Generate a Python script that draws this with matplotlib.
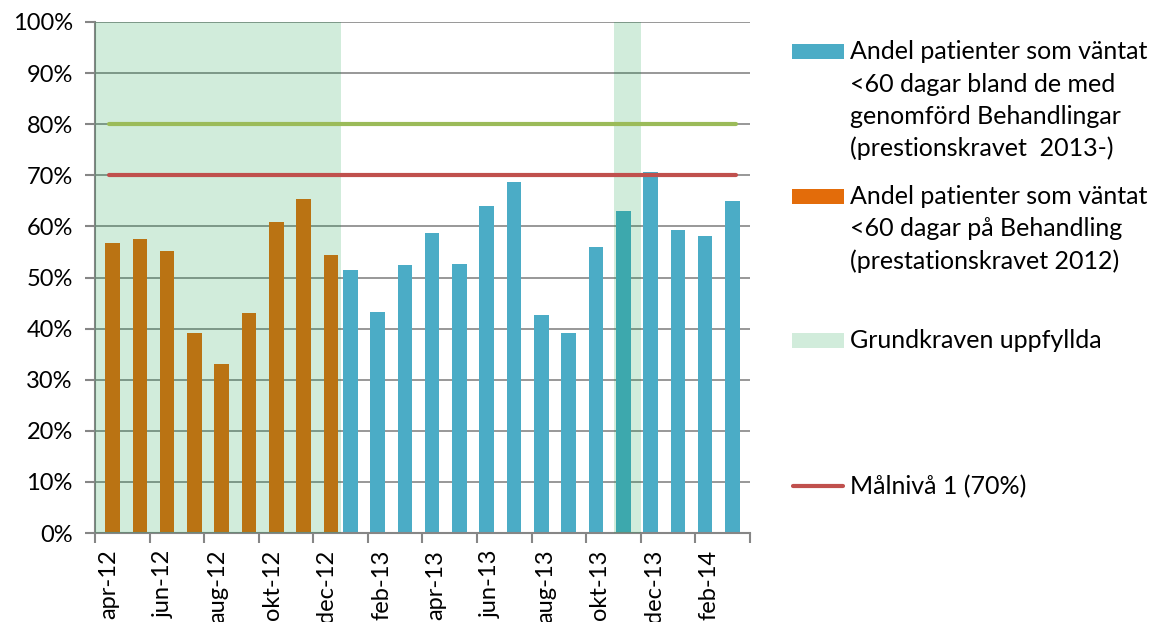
import numpy as np
from matplotlib import pyplot as plt
from matplotlib.patches import Rectangle
from matplotlib.lines import Line2D
from matplotlib.ticker import PercentFormatter, FixedLocator

plt.rcParams['font.family'] = ['Lato', 'DejaVu Sans']

months = ['apr-12', 'maj-12', 'jun-12', 'jul-12', 'aug-12', 'sep-12', 'okt-12', 'nov-12', 'dec-12',
          'jan-13', 'feb-13', 'mar-13', 'apr-13', 'maj-13', 'jun-13', 'jul-13', 'aug-13', 'sep-13',
          'okt-13', 'nov-13', 'dec-13', 'jan-14', 'feb-14', 'mar-14']
# prestationskravet 2012 (apr-12 .. dec-12)
krav2012 = [0.567, 0.575, 0.552, 0.391, 0.330, 0.431, 0.608, 0.654, 0.545]
# prestationskravet 2013- (jan-13 .. mar-14)
krav2013 = [0.515, 0.432, 0.525, 0.588, 0.527, 0.640, 0.687, 0.426, 0.392, 0.559,
            0.631, 0.707, 0.593, 0.582, 0.649]
# grundkraven uppfyllda per månad
grundkrav = [1, 1, 1, 1, 1, 1, 1, 1, 1, 0, 0, 0, 0, 0, 0, 0, 0, 0, 0, 1, 0, 0, 0, 0]
malniva1 = 0.70
malniva2 = 0.80

blue = '#4BACC6'
orange = '#E36C0A'
red = '#C0504D'
green = '#9BBB59'
shade = '#00963C'
shade_alpha = 0.18
grid = '#868686'
fs = 17

n = len(months)
x = np.arange(n)
x12 = x[:len(krav2012)]
x13 = x[len(krav2012):]

fig = plt.figure(figsize=(11.5, 6.22), dpi=100)
ax = fig.add_axes([95 / 1150, 1 - 533 / 622, 655 / 1150, 511 / 622])

ax.bar(x13 - 0.145, krav2013, width=0.535, color=blue, zorder=2)
ax.bar(x12 + 0.145, krav2012, width=0.535, color=orange, zorder=2)

# shaded months where grundkraven are met, one span per run
i = 0
while i < n:
    if grundkrav[i]:
        j = i
        while j + 1 < n and grundkrav[j + 1]:
            j += 1
        ax.axvspan(i - 0.5, j + 0.5, color=shade, alpha=shade_alpha, lw=0, zorder=3)
        i = j + 1
    else:
        i += 1

ax.plot(x, [malniva2] * n, color=green, lw=3, solid_capstyle='round', zorder=4)
ax.plot(x, [malniva1] * n, color=red, lw=3, solid_capstyle='round', zorder=4)

ax.set_xlim(-0.5, n - 0.5)
ax.set_ylim(0, 1)
ax.set_yticks(np.arange(0, 1.01, 0.1))
ax.yaxis.set_major_formatter(PercentFormatter(1.0, decimals=0))
ax.yaxis.grid(True, color=grid, lw=1.2, zorder=0)
ax.set_axisbelow(True)

ax.set_xticks(x[::2])
ax.set_xticklabels(months[::2], rotation=90)
ax.xaxis.set_minor_locator(FixedLocator(np.arange(-0.5, n, 2)))
ax.tick_params(axis='x', which='major', length=0, pad=12, labelsize=fs)
ax.tick_params(axis='x', which='minor', length=7, width=1.5, color=grid, direction='out')
ax.tick_params(axis='y', length=7, width=1.5, color=grid, pad=9, labelsize=fs)

for s in ['top', 'right']:
    ax.spines[s].set_visible(False)
for s in ['left', 'bottom']:
    ax.spines[s].set_color(grid)
    ax.spines[s].set_linewidth(1.5)

# legend on the right, handle beside the first text line
W, H = 1150, 622
step = 32.5
entries = [
    ('patch', blue, 1.0, ['Andel patienter som väntat', '<60 dagar bland de med',
                          'genomförd Behandlingar', '(prestionskravet  2013-)'], 59),
    ('patch', orange, 1.0, ['Andel patienter som väntat', '<60 dagar på Behandling',
                            '(prestationskravet 2012)'], 204),
    ('patch', shade, shade_alpha, ['Grundkraven uppfyllda'], 348),
    ('line', red, 1.0, ['Målnivå 1 (70%)'], 494),
]
for kind, col, a, lines, base in entries:
    if kind == 'patch':
        fig.add_artist(Rectangle((792 / W, 1 - base / H), 52 / W, 15 / H,
                                 transform=fig.transFigure, color=col, alpha=a, lw=0))
    else:
        fig.add_artist(Line2D([793 / W, 843 / W], [1 - (base - 8) / H] * 2,
                              transform=fig.transFigure, color=col, lw=3, solid_capstyle='round'))
    for k, line in enumerate(lines):
        fig.text(850 / W, 1 - (base + k * step) / H, line, fontsize=18, va='baseline', ha='left')

plt.savefig('out.png', dpi=100)
